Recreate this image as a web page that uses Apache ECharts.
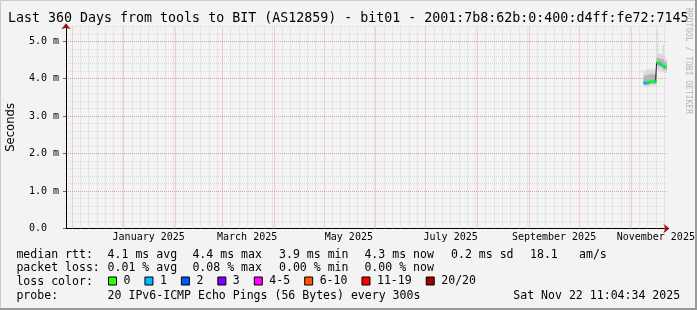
<!DOCTYPE html>
<html><head><meta charset="utf-8">
<script src="https://cdn.jsdelivr.net/npm/echarts@6/dist/echarts.min.js"></script>
<style>html,body{margin:0;padding:0;background:#f3f3f3}#c{width:697px;height:310px}</style>
</head><body><div id="c"></div>
<script>
// ---------------- data ----------------
const titleText = 'Last 360 Days from tools to BIT (AS12859) - bit01 - 2001:7b8:62b:0:400:d4ff:fe72:7145';
const graphEnd = Date.UTC(2025, 10, 22, 10, 4, 34);
const graphDays = 360;
const dataStart = Date.UTC(2025, 10, 8, 16, 0, 0);   // first step with data
const stepMs = 51840000;                              // one step = 0.6 day

// median rtt per step (ms)
const medianMs = [3.89, 3.87, 3.90, 3.88, 3.91, 3.89, 3.92, 3.91, 3.93, 3.92, 3.91, 3.92, 3.93,
                  4.43, 4.42, 4.40, 4.41, 4.38, 4.36, 4.34, 4.31, 4.33, 4.30];
// lost pings (of 20) per step
const lossCount = [1, 1, 0, 1, 0, 1, 0, 0, 0, 0, 0, 1, 0,
                   0, 0, 1, 0, 1, 0, 0, 1, 0, 0];
// smoke (distribution of the 20 pings) per step
const smokeMin = [3.80, 3.79, 3.81, 3.80, 3.82, 3.80, 3.82, 3.81, 3.83, 3.82, 3.81, 3.82, 3.83,
                  4.25, 4.24, 4.22, 4.24, 4.20, 4.20, 4.18, 4.16, 4.18, 4.15];
const smokeLo  = [3.85, 3.84, 3.86, 3.85, 3.87, 3.85, 3.88, 3.87, 3.89, 3.88, 3.87, 3.88, 3.89,
                  4.36, 4.35, 4.33, 4.34, 4.31, 4.29, 4.27, 4.24, 4.26, 4.23];
const smokeHi  = [4.08, 4.06, 4.10, 4.07, 4.11, 4.08, 4.12, 4.10, 4.13, 4.11, 4.10, 4.12, 4.13,
                  4.56, 4.55, 4.54, 4.55, 4.52, 4.50, 4.53, 4.46, 4.45, 4.42];
const smokeMax = [4.22, 4.20, 4.24, 4.21, 4.26, 4.22, 4.25, 4.23, 4.28, 4.24, 4.22, 4.25, 4.27,
                  5.30, 4.68, 4.66, 4.67, 4.64, 4.62, 4.90, 4.58, 4.55, 4.52];

const xLabelDates = ['2025-01-16', '2025-03-16', '2025-05-16', '2025-07-16', '2025-09-16', '2025-11-16'];
const yTickLabels = ['0.0\u00a0\u00a0', '1.0 m', '2.0 m', '3.0 m', '4.0 m', '5.0 m'];
const yAxisName = 'Seconds';
const lossLevels = ['0', '1', '2', '3', '4-5', '6-10', '11-19', '20/20'];
const lossUpper  = [0, 1, 2, 3, 5, 10, 19, 20];
const lossColors = ['#26ff00', '#00b8ff', '#0059ff', '#7e00ff', '#ff00ff', '#ff5500', '#ff0000', '#a00000'];

const rowRtt   = ['median rtt:', '4.1 ms avg', '4.4 ms max', '3.9 ms min', '4.3 ms now', '0.2 ms sd', '18.1', 'am/s'];
const rowLoss  = ['packet loss:', '0.01 % avg', '0.08 % max', '0.00 % min', '0.00 % now'];
const rowColor = ['loss color:'];
const rowProbe = ['probe:', '20 IPv6-ICMP Echo Pings (56 Bytes) every 300s', 'Sat Nov 22 11:04:34 2025'];
const watermark = 'RRDTOOL / TOBI OETIKER';

// ---------------- build ----------------
const MONO = '"DejaVu Sans Mono", monospace';
const SANS = '"DejaVu Sans", sans-serif';
const DAY = 86400000;
const graphStart = graphEnd - graphDays * DAY;
const stepTimes = medianMs.map((_, i) => dataStart + i * stepMs);

const monthStarts = [];
const minorDays = [];
for (let k = 0; k < 13; k++) {
  const ms = Date.UTC(2024, 11 + k, 1);
  if (ms > graphStart && ms < graphEnd) monthStarts.push(ms);
  for (const d of [6, 11, 16, 21, 26, 31]) {
    const t = Date.UTC(2024, 11 + k, d);
    if (new Date(t).getUTCDate() === d && t > graphStart && t < graphEnd) minorDays.push(t);
  }
}
const RED_GRID = 'rgba(235,130,130,0.65)';
const GRAY_GRID = 'rgba(190,190,190,0.5)';

const monthNames = ['January','February','March','April','May','June','July','August','September','October','November','December'];
const xLabelValues = xLabelDates.map(s => Date.parse(s + 'T00:00:00Z'));

function levelOf(c) { for (let i = 0; i < lossUpper.length; i++) if (c <= lossUpper[i]) return i; return lossUpper.length - 1; }

function rectItem(params, api) {
  const t = api.value(0), lo = api.value(1), hi = api.value(2);
  const a = api.coord([t, hi]);
  const b = api.coord([t + stepMs, lo]);
  return { type: 'rect', shape: { x: a[0], y: a[1], width: b[0] - a[0] + 0.4, height: b[1] - a[1] },
           style: { fill: api.visual('color') } };
}
function bandItem(params, api) {
  const t = api.value(0), v = api.value(1);
  const a = api.coord([t, v]);
  const b = api.coord([t + stepMs, v]);
  return { type: 'rect', shape: { x: a[0], y: a[1] - 1.5, width: b[0] - a[0] + 0.4, height: 3 },
           style: { fill: api.visual('color') } };
}

const XI = 1, YI = 2;   // main axes
const series = [];
series.push({
  type: 'line', data: [], silent: true, xAxisIndex: XI, yAxisIndex: YI,
  markLine: {
    silent: true, symbol: ['none', 'none'], label: { show: false }, animation: false, z: 1,
    emphasis: { disabled: true },
    data: [
      ...minorDays.map(t => ({ xAxis: t, lineStyle: { color: GRAY_GRID, type: [1, 1], width: 1 } })),
      ...monthStarts.map(t => ({ xAxis: t, lineStyle: { color: RED_GRID, type: [1, 1], width: 1 } }))
    ]
  }
});
series.push({
  type: 'custom', name: 'smoke', xAxisIndex: XI, yAxisIndex: YI, z: 3, clip: true, silent: true,
  itemStyle: { color: '#dadada' }, encode: { x: 0, y: [1, 2] },
  data: stepTimes.map((t, i) => [t, smokeMin[i], smokeMax[i]]), renderItem: rectItem
});
series.push({
  type: 'custom', name: 'smoke2', xAxisIndex: XI, yAxisIndex: YI, z: 4, clip: true, silent: true,
  itemStyle: { color: '#b4b4b4' }, encode: { x: 0, y: [1, 2] },
  data: stepTimes.map((t, i) => [t, smokeLo[i], smokeHi[i]]), renderItem: rectItem
});
series.push({
  type: 'line', name: 'median', xAxisIndex: XI, yAxisIndex: YI, z: 5, step: 'end', symbol: 'none', silent: true,
  lineStyle: { color: '#202020', width: 1 },
  data: stepTimes.map((t, i) => [t, medianMs[i]]).concat([[stepTimes[stepTimes.length - 1] + stepMs, medianMs[medianMs.length - 1]]])
});
lossLevels.forEach((name, li) => {
  series.push({
    type: 'custom', name, xAxisIndex: XI, yAxisIndex: YI, z: 6, clip: true, silent: true,
    color: lossColors[li], itemStyle: { color: lossColors[li] }, encode: { x: 0, y: 1 },
    data: stepTimes.map((t, i) => levelOf(lossCount[i]) === li ? [t, medianMs[i]] : null).filter(d => d),
    renderItem: bandItem
  });
});

const statCols = [16.4, 107.6, 192.4, 279, 364.4, 451, 530, 579];
const probeCols = [16.4, 107.6, 513.3];
const rowY = [254.7, 268.3, 282.3, 296];
const txt = (text, x, y, size) => ({
  type: 'text', x, y, silent: true,
  style: { text, font: size + 'px ' + MONO, fill: '#000', verticalAlign: 'middle', align: 'left' }
});
const graphic = [];
graphic.push(txt(titleText, 8, 18.5, 13.3));
rowRtt.forEach((s, i) => graphic.push(txt(s, statCols[i], rowY[0], 11.55)));
rowLoss.forEach((s, i) => graphic.push(txt(s, statCols[i], rowY[1], 11.55)));
rowColor.forEach((s, i) => graphic.push(txt(s, statCols[i], rowY[2], 11.55)));
rowProbe.forEach((s, i) => graphic.push(txt(s, probeCols[i], rowY[3], 11.55)));
graphic.push({ type: 'text', x: 688, y: 61, rotation: -Math.PI / 2, silent: true,
  style: { text: watermark, font: '8px ' + MONO, fill: '#b4b4b4', align: 'center', verticalAlign: 'middle' } });
graphic.push({ type: 'rect', silent: true, shape: { x: 0.5, y: 0.5, width: 696, height: 309 }, style: { fill: 'none', stroke: '#cbcbcb', lineWidth: 1 } });
graphic.push({ type: 'polyline', silent: true, shape: { points: [[696, 0], [696, 309], [0, 309]] }, style: { stroke: '#999', lineWidth: 2, fill: 'none' } });

const yBase = { type: 'value', min: 0, max: 5.4, position: 'left', offset: 0 };
const xBase = { type: 'value', min: graphStart, max: graphEnd, position: 'bottom', offset: 0 };
const arrowLine = { show: true, onZero: false, symbol: ['none', 'arrow'], symbolSize: [7, 6], symbolOffset: [0, 3],
                    lineStyle: { color: '#a01010', width: 1, opacity: 0 } };

const option = {
  animation: false,
  backgroundColor: '#f3f3f3',
  grid: { left: 66, right: 30.5, top: 26.3, bottom: 81.5, containLabel: false, outerBoundsMode: 'none' },
  legend: {
    left: 108, top: 275, padding: 0, itemWidth: 8, itemHeight: 8, itemGap: 14, icon: 'rect',
    selectedMode: false, data: lossLevels,
    itemStyle: { borderColor: '#000', borderWidth: 1 },
    textStyle: { fontFamily: MONO, fontSize: 11.55, color: '#000', padding: [0, 0, 0, 2] }
  },
  xAxis: [
    Object.assign({}, xBase, {
      axisLine: arrowLine, axisTick: { show: false }, axisLabel: { show: false }, splitLine: { show: false }
    }),
    Object.assign({}, xBase, {
      axisLine: { show: true, onZero: false, lineStyle: { color: '#000', width: 1 } },
      axisTick: { show: false },
      splitLine: { show: false },
      axisLabel: {
        customValues: xLabelValues, margin: 4, fontFamily: MONO, fontSize: 10, color: '#000',
        hideOverlap: false,
        formatter: v => { const d = new Date(v); return monthNames[d.getUTCMonth()] + ' ' + d.getUTCFullYear(); }
      }
    })
  ],
  yAxis: [
    Object.assign({}, yBase, {
      axisLine: arrowLine, axisTick: { show: false }, axisLabel: { show: false }, splitLine: { show: false }
    }),
    Object.assign({}, yBase, {
      interval: 0.2, axisLine: { show: false }, axisTick: { show: false }, axisLabel: { show: false },
      splitLine: { show: true, lineStyle: { color: GRAY_GRID, type: [1, 1], width: 1 } }
    }),
    Object.assign({}, yBase, {
      interval: 1,
      axisLine: { show: true, onZero: false, lineStyle: { color: '#000', width: 1 } },
      axisTick: { show: true, length: 3, lineStyle: { color: '#666' } },
      axisLabel: { margin: 7, fontFamily: MONO, fontSize: 10, color: '#000', showMaxLabel: false,
                   formatter: (v, i) => (i < yTickLabels.length ? yTickLabels[i] : '') },
      splitLine: { show: true, lineStyle: { color: [RED_GRID, RED_GRID, RED_GRID, RED_GRID, RED_GRID, RED_GRID, 'rgba(0,0,0,0)'], type: [1, 1], width: 1 } },
      name: yAxisName, nameLocation: 'middle', nameGap: 49, nameRotate: 90,
      nameTextStyle: { fontFamily: SANS, fontSize: 11.6, color: '#000' }
    })
  ],
  graphic,
  series
};
const chart = echarts.init(document.getElementById('c'), null, { renderer: 'canvas' });
chart.setOption(option);
</script></body></html>
